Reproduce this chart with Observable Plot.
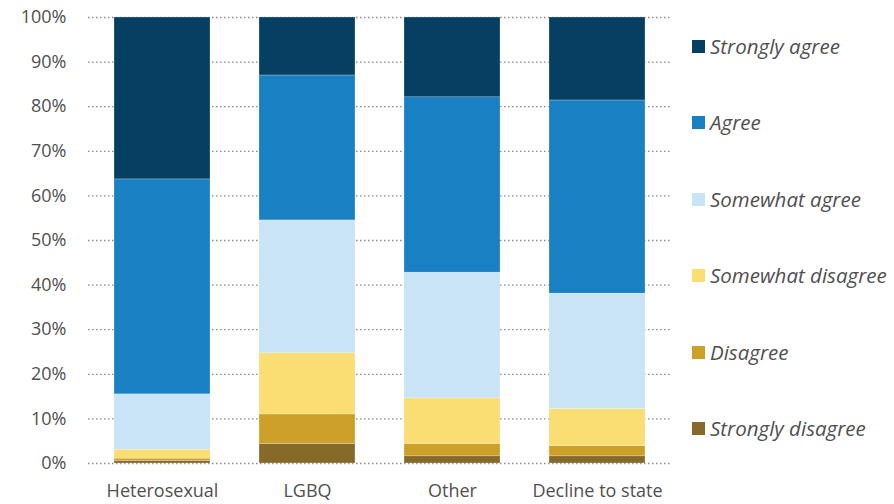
<!DOCTYPE html>
<html>
<head>
<meta charset="utf-8">
<script src="https://cdn.jsdelivr.net/npm/d3@7"></script>
<script src="https://cdn.jsdelivr.net/npm/@observablehq/plot@0.6"></script>
<style>
  html, body { margin: 0; padding: 0; background: #fff; }
  #wrap { position: relative; width: 894px; height: 504px; font-family: "Open Sans", "Noto Sans", sans-serif; }
  #legend { position: absolute; left: 692px; top: 0; }
  .item { position: absolute; left: 0; white-space: nowrap; display: flex; align-items: center; font-style: italic; font-size: 20.5px; color: #505050; }
  .sw { width: 13px; height: 13px; margin-right: 5px; display: inline-block; }
</style>
</head>
<body>
<div id="wrap"><div id="chart"></div><div id="legend"></div></div>
<script>
const categories = ["Heterosexual", "LGBQ", "Other", "Decline to state"];
const responses = ["Strongly disagree", "Disagree", "Somewhat disagree", "Somewhat agree", "Agree", "Strongly agree"];
const stronglyDisagree = [0.6, 4.4, 1.6, 1.6];
const disagree = [0.5, 6.6, 2.8, 2.3];
const somewhatDisagree = [2.0, 13.7, 10.2, 8.3];
const somewhatAgree = [12.4, 29.8, 28.2, 25.9];
const agree = [48.2, 32.5, 39.3, 43.3];
const stronglyAgree = [36.3, 13.0, 17.9, 18.6];
const colors = ["#866A2A", "#CDA02A", "#FADE73", "#C8E4F6", "#1A80C4", "#053F62"];
const yTicks = [0, 10, 20, 30, 40, 50, 60, 70, 80, 90, 100];

const series = [stronglyDisagree, disagree, somewhatDisagree, somewhatAgree, agree, stronglyAgree];
const data = [];
categories.forEach((c, i) => {
  responses.forEach((r, j) => data.push({category: c, response: r, value: series[j][i]}));
});

const chart = Plot.plot({
  width: 690,
  height: 504,
  marginLeft: 88,
  marginRight: 19,
  marginTop: 17,
  marginBottom: 41,
  style: {fontFamily: "'Open Sans', 'Noto Sans', sans-serif", fontSize: "18px", color: "#505050", background: "#fff"},
  x: {domain: categories, paddingInner: 0.336, paddingOuter: 0.171, label: null, tickSize: 0, tickPadding: 21},
  y: {domain: [0, 100], ticks: yTicks, tickFormat: d => d + "%", label: null, tickSize: 0, tickPadding: 22},
  color: {domain: responses, range: colors},
  marks: [
    Plot.ruleY(yTicks, {stroke: "#888", strokeWidth: 1.3, strokeDasharray: "1.5,2.5"}),
    Plot.barY(data, {x: "category", y: "value", fill: "response", z: "response", order: responses, stroke: "#fff", strokeWidth: 0.4, strokeOpacity: 0.6})
  ]
});
document.getElementById("chart").appendChild(chart);

const legend = document.getElementById("legend");
const centers = [46, 122, 199, 275, 352, 428];
const legendOrder = responses.slice().reverse();
legendOrder.forEach((r, i) => {
  const d = document.createElement("div");
  d.className = "item";
  d.style.top = (centers[i] - 14) + "px";
  d.style.height = "28px";
  const sw = document.createElement("span");
  sw.className = "sw";
  sw.style.background = colors[responses.indexOf(r)];
  d.appendChild(sw);
  d.appendChild(document.createTextNode(r));
  legend.appendChild(d);
});
</script>
</body>
</html>
